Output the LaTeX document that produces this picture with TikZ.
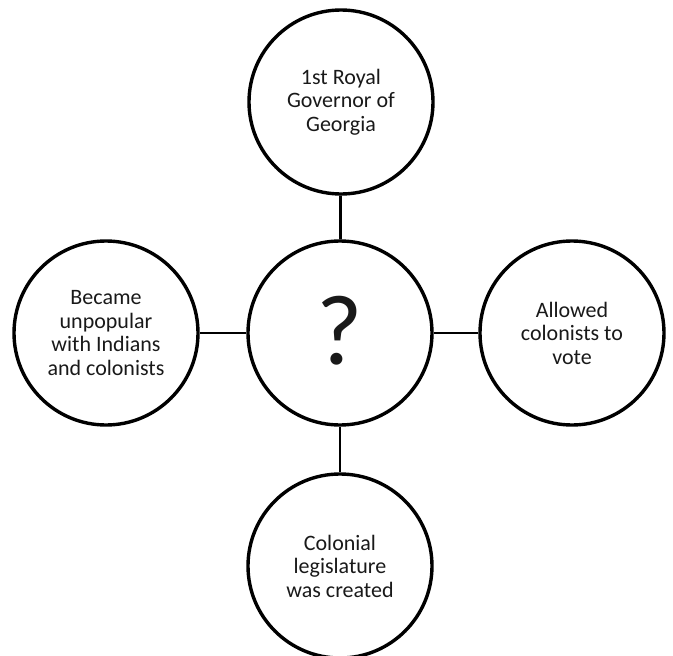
\documentclass[tikz,border=0pt]{standalone}
\usepackage{fontspec}
\setmainfont{Carlito}

\begin{document}
\begin{tikzpicture}[x=1pt,y=-1pt,
    bubble/.style={circle, draw, line width=3.4pt, minimum size=184pt,
        inner sep=0pt, align=center, text=black!90,
        font=\fontsize{22}{23.5}\selectfont},
    spoke/.style={line width=2.8pt}]

\useasboundingbox (0,0) rectangle (673,656);

\coordinate (mid) at (340,333);

\node[bubble] (q) at (mid) {\fontsize{100}{100}\selectfont\raisebox{5pt}{?}};
\node[bubble] (gov) at (341,102) {1st Royal\\Governor of\\Georgia};
\node[bubble] (vote) at (572,333) {Allowed\\colonists to\\vote};
\node[bubble] (legis) at (340,566) {Colonial\\legislature\\was created};
\node[bubble] (unpop) at (106,333) {Became\\unpopular\\with Indians\\and colonists};

\foreach \i in {gov,vote,legis,unpop}
    \draw[spoke] (q) -- (\i);

\end{tikzpicture}
\end{document}
